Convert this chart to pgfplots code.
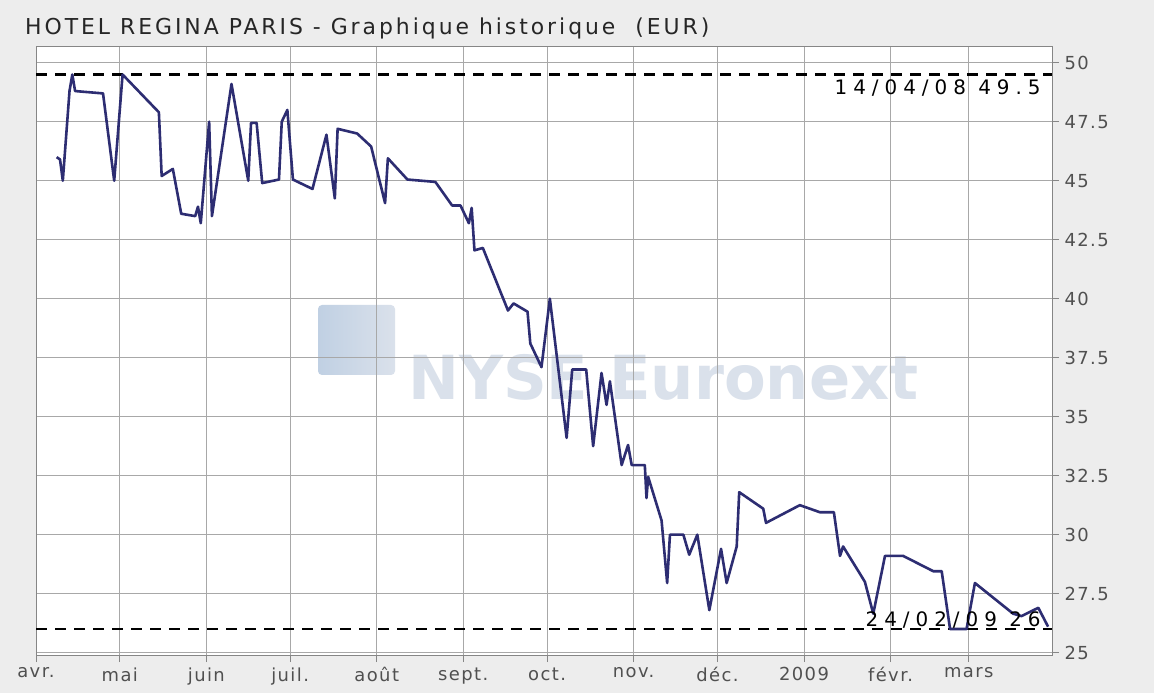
\documentclass[border=0pt]{standalone}
\usepackage{fontspec}
\setmainfont{DejaVu Sans}
\usepackage{pgfplots}
\pgfplotsset{compat=1.18}
\definecolor{bggray}{HTML}{EDEDED}
\definecolor{linec}{HTML}{2D2D72}
\definecolor{gridc}{HTML}{A8A8A8}
\definecolor{tickc}{HTML}{505050}
\definecolor{wm}{HTML}{DAE1EB}
\definecolor{wmlogo}{HTML}{C0D0E3}
\begin{document}
\begin{tikzpicture}
\fill[bggray] (0bp,0bp) rectangle (1154bp,693bp);
\fill[white] (36bp,38bp) rectangle (1052bp,646.3bp);
% watermark
\shade[left color=wmlogo, right color=wm, rounded corners=4bp] (318bp,318bp) rectangle (395bp,388bp);
\node[anchor=base west, text=wm, inner sep=0pt, font=\fontsize{61}{61}\selectfont\bfseries] at (408bp,293bp) {NYSE Euronext};
% title
\node[anchor=west, text=black!85, inner sep=0pt, font=\fontsize{22}{25}\selectfont\addfontfeatures{LetterSpace=13.5}] at (25bp,665bp) {HOTEL REGINA PARIS - Graphique historique \ (EUR)};
\begin{axis}[
  at={(36bp,38bp)}, anchor=south west,
  scale only axis, width=1016bp, height=608.3bp,
  xmin=0, xmax=363.8, ymin=24.9, ymax=50.68,
  axis background/.style={},
  axis line style={gridc!80!black, line width=1bp},
  grid=major,
  major grid style={gridc, line width=1bp},
  xtick={0,30,61,91,122,153,183,214,244,275,306,334},
  xticklabels={avr.,mai,juin,juil.,août,sept.,oct.,nov.,déc.,2009,févr.,mars},
  ytick={25,27.5,...,50},
  ytick pos=right, yticklabel pos=right,
  xtick pos=bottom,
  tick align=outside,
  major tick length=7bp,
  tick style={gridc!80!black, line width=1bp},
  /pgf/number format/assume math mode=true,
  ticklabel style={text=tickc, font=\fontsize{18}{20}\selectfont\addfontfeatures{LetterSpace=8}},
  xticklabel style={yshift=-2bp},
  yticklabel style={xshift=2bp},
  clip=false,
]
\addplot[black, line width=2.2bp, dash pattern=on 11bp off 8bp] coordinates {(0,49.5) (363.8,49.5)};
\addplot[black, line width=2.2bp, dash pattern=on 11bp off 8bp] coordinates {(0,26) (363.8,26)};
\addplot[linec, line width=2.6bp, line join=round] table {
x y
7.4 46.0
8.6 45.9
9.6 45.0
12 48.8
13 49.5
14 48.8
24 48.7
28 45.0
31 49.5
44 47.9
45 45.2
49 45.5
52 43.6
57 43.5
58 43.9
59 43.2
62 47.5
63 43.5
70 49.1
76 45.0
77 47.45
79 47.45
81 44.9
87 45.05
88 47.5
90 48.0
92 45.05
99 44.65
104 46.95
107 44.25
108 47.2
115 47.0
120 46.45
125 44.05
126 45.95
133 45.05
143 44.95
149 43.95
152 43.95
155 43.2
156 43.85
157 42.05
160 42.15
169 39.5
171 39.8
176 39.45
177 38.1
181 37.1
184 40.0
190 34.1
192 37.0
197 37.0
199.5 33.75
202.5 36.85
204.3 35.5
205.5 36.5
209.7 32.95
212 33.8
213.3 32.95
218 32.95
218.6 31.55
219.2 32.45
224 30.6
226 27.95
227 30.0
231.8 30.0
233.9 29.15
236.8 30.0
241.1 26.8
245.3 29.4
247.3 27.95
250.9 29.5
251.8 31.8
260.4 31.1
261.4 30.5
273.5 31.25
280.7 30.95
285.7 30.95
287.9 29.1
289 29.5
295 28.35
296.8 28.0
299.8 26.65
304 29.1
310.5 29.1
321.3 28.45
324.3 28.45
327.3 26.0
333.2 26.0
336.2 27.95
349.9 26.65
352.9 26.55
358.9 26.9
362.4 26.1
};
\node[anchor=north east, inner sep=0pt, font=\fontsize{20}{22}\selectfont\addfontfeatures{LetterSpace=30}] at (axis cs:359.8,49.3) {14/04/08 49.5};
\node[anchor=base east, inner sep=0pt, font=\fontsize{20}{22}\selectfont\addfontfeatures{LetterSpace=30}] at (axis cs:359.8,26.1) {24/02/09 26};
\end{axis}
\end{tikzpicture}
\end{document}
